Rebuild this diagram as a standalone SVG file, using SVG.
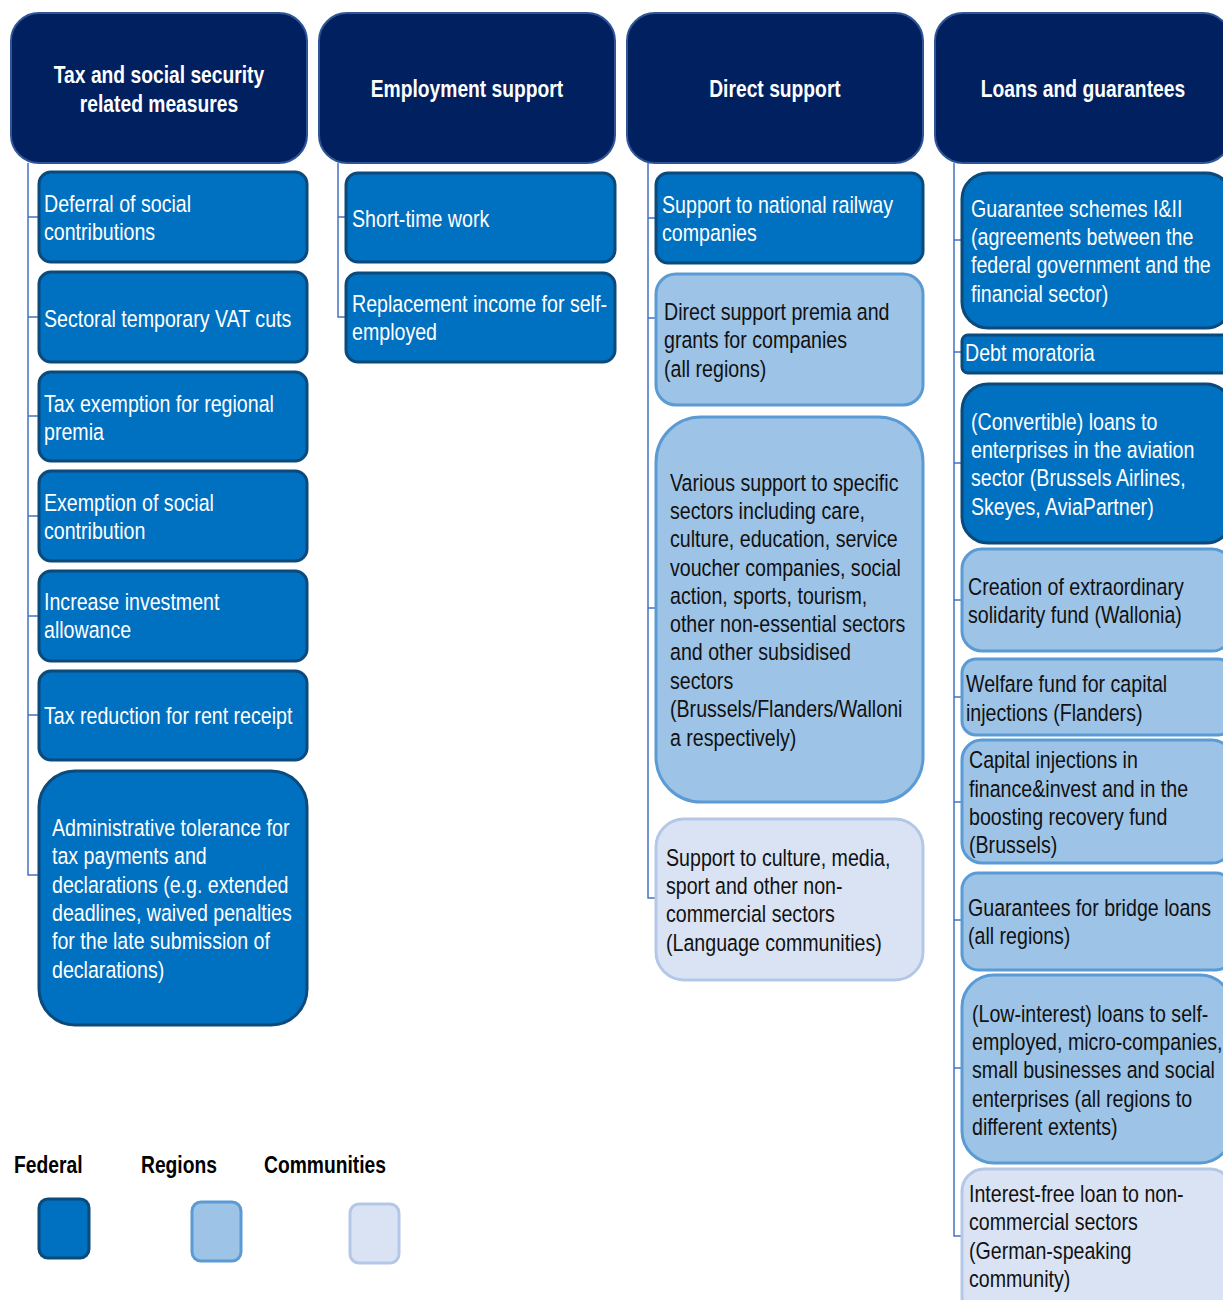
<svg xmlns="http://www.w3.org/2000/svg" width="1223" height="1300" viewBox="0 0 1223 1300">
<style>
text{font-family:"Liberation Sans",Arial,sans-serif;font-size:23.5px}
.hd rect{fill:#002060;stroke:#2F5597;stroke-width:2}
.hd text{fill:#fff;font-weight:bold;text-anchor:middle}
.fed rect{fill:#0070C0;stroke:#0B4A7A;stroke-width:3}
.fed text{fill:#fff}
.reg rect{fill:#9DC3E6;stroke:#5B9BD5;stroke-width:3}
.reg text{fill:#111}
.com rect{fill:#DAE3F3;stroke:#B4C7E7;stroke-width:3}
.com text{fill:#111}
.lg{font-weight:bold;fill:#000}
#connectors path{fill:none;stroke:#4472C4;stroke-width:1.5}
</style>
<rect width="1223" height="1300" fill="#fff"/>
<g id="connectors">
<path d="M28 163V875H39M28 217H39M28 317H39M28 416H39M28 516H39M28 616H39M28 715H39"/>
<path d="M338 163V317H346M338 217H346"/>
<path d="M648 163V898H656M648 218H656M648 318H656M648 608H656"/>
<path d="M954 163V1236H962M954 240H962M954 352H962M954 463H962M954 600H962M954 697H962M954 802H962M954 920H962M954 1068H962"/>
</g>
<g id="h1" class="hd"><rect x="11" y="13" width="296" height="150" rx="28"/><g transform="translate(159 0) scale(0.82 1)"><text x="0" y="83">Tax and social security</text><text x="0" y="112">related measures</text></g></g>
<g id="h2" class="hd"><rect x="319" y="13" width="296" height="150" rx="28"/><g transform="translate(467 0) scale(0.82 1)"><text x="0" y="97">Employment support</text></g></g>
<g id="h3" class="hd"><rect x="627" y="13" width="296" height="150" rx="28"/><g transform="translate(775 0) scale(0.82 1)"><text x="0" y="97">Direct support</text></g></g>
<g id="h4" class="hd"><rect x="935" y="13" width="296" height="150" rx="28"/><g transform="translate(1083 0) scale(0.82 1)"><text x="0" y="97">Loans and guarantees</text></g></g>

<g id="n1a" class="fed"><rect x="39" y="172" width="268" height="90" rx="12"/><g transform="translate(44 0) scale(0.835 1)"><text x="0" y="212">Deferral of social</text><text x="0" y="240">contributions</text></g></g>
<g id="n1b" class="fed"><rect x="39" y="272" width="268" height="90" rx="12"/><g transform="translate(44 0) scale(0.835 1)"><text x="0" y="327">Sectoral temporary VAT cuts</text></g></g>
<g id="n1c" class="fed"><rect x="39" y="372" width="268" height="89" rx="12"/><g transform="translate(44 0) scale(0.835 1)"><text x="0" y="412">Tax exemption for regional</text><text x="0" y="440">premia</text></g></g>
<g id="n1d" class="fed"><rect x="39" y="471" width="268" height="90" rx="12"/><g transform="translate(44 0) scale(0.835 1)"><text x="0" y="511">Exemption of social</text><text x="0" y="539">contribution</text></g></g>
<g id="n1e" class="fed"><rect x="39" y="571" width="268" height="90" rx="12"/><g transform="translate(44 0) scale(0.835 1)"><text x="0" y="610">Increase investment</text><text x="0" y="638">allowance</text></g></g>
<g id="n1f" class="fed"><rect x="39" y="671" width="268" height="89" rx="12"/><g transform="translate(44 0) scale(0.835 1)"><text x="0" y="724">Tax reduction for rent receipt</text></g></g>
<g id="n1g" class="fed"><rect x="39" y="771" width="268" height="254" rx="36"/><g transform="translate(52 0) scale(0.835 1)"><text x="0" y="836">Administrative tolerance for</text><text x="0" y="864">tax payments and</text><text x="0" y="893">declarations (e.g. extended</text><text x="0" y="921">deadlines, waived penalties</text><text x="0" y="949">for the late submission of</text><text x="0" y="978">declarations)</text></g></g>

<g id="n2a" class="fed"><rect x="346" y="173" width="269" height="89" rx="12"/><g transform="translate(352 0) scale(0.835 1)"><text x="0" y="227">Short-time work</text></g></g>
<g id="n2b" class="fed"><rect x="346" y="273" width="269" height="89" rx="12"/><g transform="translate(352 0) scale(0.835 1)"><text x="0" y="312">Replacement income for self-</text><text x="0" y="340">employed</text></g></g>

<g id="n3a" class="fed"><rect x="656" y="173" width="267" height="90" rx="12"/><g transform="translate(662 0) scale(0.835 1)"><text x="0" y="213">Support to national railway</text><text x="0" y="241">companies</text></g></g>
<g id="n3b" class="reg"><rect x="656" y="274" width="267" height="131" rx="20"/><g transform="translate(664 0) scale(0.835 1)"><text x="0" y="320">Direct support premia and</text><text x="0" y="348">grants for companies</text><text x="0" y="377">(all regions)</text></g></g>
<g id="n3c" class="reg"><rect x="656" y="417" width="267" height="385" rx="45"/><g transform="translate(670 0) scale(0.835 1)"><text x="0" y="491">Various support to specific</text><text x="0" y="519">sectors including care,</text><text x="0" y="547">culture, education, service</text><text x="0" y="576">voucher companies, social</text><text x="0" y="604">action, sports, tourism,</text><text x="0" y="632">other non-essential sectors</text><text x="0" y="660">and other subsidised</text><text x="0" y="689">sectors</text><text x="0" y="717">(Brussels/Flanders/Walloni</text><text x="0" y="746">a respectively)</text></g></g>
<g id="n3d" class="com"><rect x="656" y="819" width="267" height="161" rx="28"/><g transform="translate(666 0) scale(0.835 1)"><text x="0" y="866">Support to culture, media,</text><text x="0" y="894">sport and other non-</text><text x="0" y="922">commercial sectors</text><text x="0" y="951">(Language communities)</text></g></g>

<g id="n4a" class="fed"><rect x="962" y="173" width="270" height="155" rx="26"/><g transform="translate(971 0) scale(0.835 1)"><text x="0" y="217">Guarantee schemes I&amp;II</text><text x="0" y="245">(agreements between the</text><text x="0" y="273">federal government and the</text><text x="0" y="302">financial sector)</text></g></g>
<g id="n4b" class="fed"><rect x="962" y="335" width="270" height="38" rx="6"/><g transform="translate(965 0) scale(0.835 1)"><text x="0" y="361">Debt moratoria</text></g></g>
<g id="n4c" class="fed"><rect x="962" y="384" width="270" height="159" rx="26"/><g transform="translate(971 0) scale(0.835 1)"><text x="0" y="430">(Convertible) loans to</text><text x="0" y="458">enterprises in the aviation</text><text x="0" y="486">sector (Brussels Airlines,</text><text x="0" y="515">Skeyes, AviaPartner)</text></g></g>
<g id="n4d" class="reg"><rect x="962" y="549" width="270" height="102" rx="20"/><g transform="translate(968 0) scale(0.835 1)"><text x="0" y="595">Creation of extraordinary</text><text x="0" y="623">solidarity fund (Wallonia)</text></g></g>
<g id="n4e" class="reg"><rect x="962" y="659" width="270" height="76" rx="14"/><g transform="translate(966 0) scale(0.835 1)"><text x="0" y="692">Welfare fund for capital</text><text x="0" y="721">injections (Flanders)</text></g></g>
<g id="n4f" class="reg"><rect x="962" y="740" width="270" height="123" rx="20"/><g transform="translate(969 0) scale(0.835 1)"><text x="0" y="768">Capital injections in</text><text x="0" y="797">finance&amp;invest and in the</text><text x="0" y="825">boosting recovery fund</text><text x="0" y="853">(Brussels)</text></g></g>
<g id="n4g" class="reg"><rect x="962" y="873" width="270" height="97" rx="16"/><g transform="translate(968 0) scale(0.835 1)"><text x="0" y="916">Guarantees for bridge loans</text><text x="0" y="944">(all regions)</text></g></g>
<g id="n4h" class="reg"><rect x="962" y="975" width="270" height="188" rx="32"/><g transform="translate(972 0) scale(0.835 1)"><text x="0" y="1022">(Low-interest) loans to self-</text><text x="0" y="1050">employed, micro-companies,</text><text x="0" y="1078">small businesses and social</text><text x="0" y="1107">enterprises (all regions to</text><text x="0" y="1135">different extents)</text></g></g>
<g id="n4i" class="com"><rect x="962" y="1169" width="270" height="150" rx="22"/><g transform="translate(969 0) scale(0.835 1)"><text x="0" y="1202">Interest-free loan to non-</text><text x="0" y="1230">commercial sectors</text><text x="0" y="1259">(German-speaking</text><text x="0" y="1287">community)</text></g></g>

<g id="legend">
<g transform="translate(14 0) scale(0.82 1)"><text class="lg" x="0" y="1173">Federal</text></g>
<g transform="translate(141 0) scale(0.82 1)"><text class="lg" x="0" y="1173">Regions</text></g>
<g transform="translate(264 0) scale(0.82 1)"><text class="lg" x="0" y="1173">Communities</text></g>
<g class="fed"><rect x="39" y="1199" width="50" height="59" rx="9"/></g>
<g class="reg"><rect x="192" y="1202" width="49" height="59" rx="9"/></g>
<g class="com"><rect x="350" y="1204" width="49" height="59" rx="9"/></g>
</g>
</svg>
